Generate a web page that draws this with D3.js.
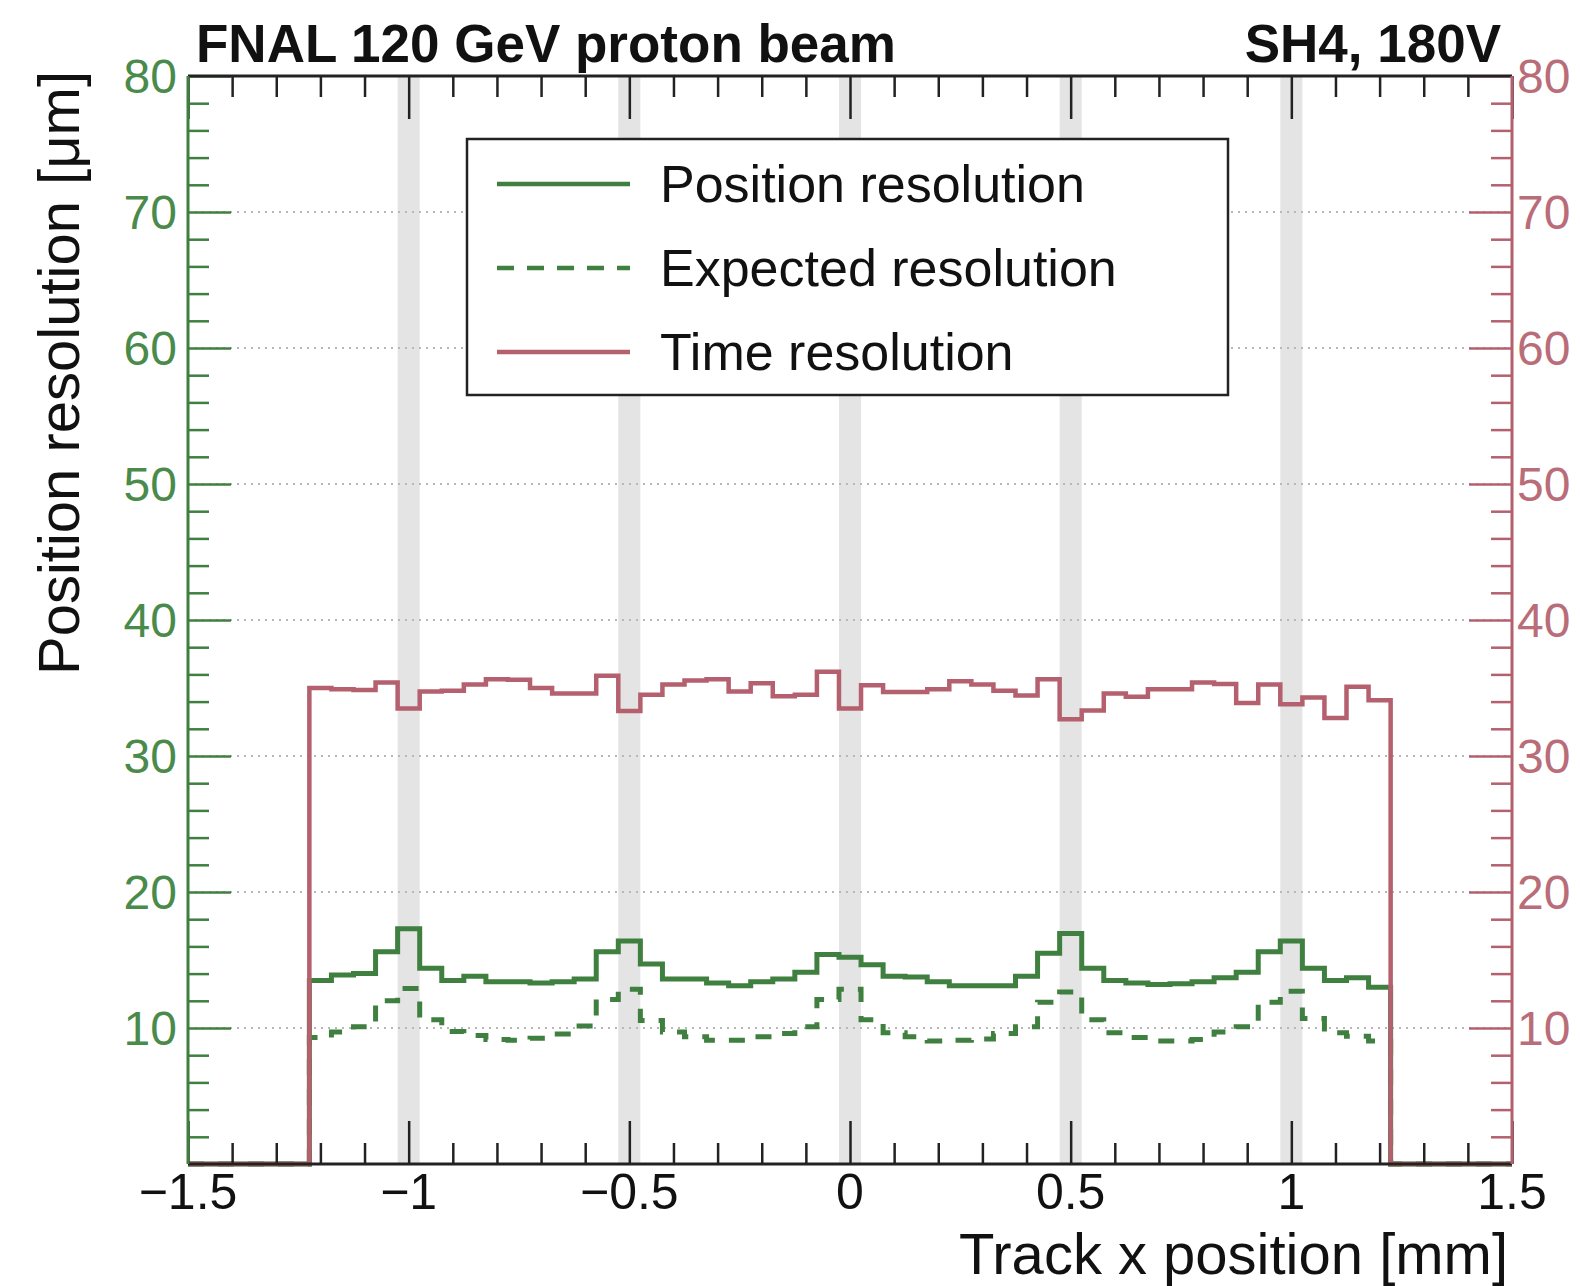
<!DOCTYPE html>
<html>
<head>
<meta charset="utf-8">
<script src="https://cdn.jsdelivr.net/npm/d3@7"></script>
<style>
  body { margin: 0; background: #fff; }
  text { font-family: "Liberation Sans", Arial, Helvetica, sans-serif; }
</style>
</head>
<body>
<svg id="chart"></svg>
<script>

var GREEN = '#3f7f3f';
var GREEN_TEXT = '#4a8a4a';
var RED = '#b4606e';
var RED_TEXT = '#b86d78';

// histogram binning: 49 bins of 50 um, centred on multiples of 0.05 mm
var binLow = -1.225;
var binWidth = 0.05;

var timeRes = [35.0, 34.9, 34.85, 35.4, 33.5, 34.75, 34.8, 35.25, 35.65, 35.6,
  35.0, 34.6, 34.6, 35.9, 33.3, 34.5, 35.25, 35.55, 35.65, 34.75,
  35.35, 34.4, 34.5, 36.2, 33.5, 35.2, 34.7, 34.7, 34.9, 35.5,
  35.25, 34.8, 34.45, 35.65, 32.7, 33.35, 34.6, 34.35, 34.9, 34.9,
  35.4, 35.3, 33.9, 35.25, 33.8, 34.3, 32.8, 35.1, 34.1];

var posRes = [13.5, 13.9, 14.0, 15.6, 17.3, 14.4, 13.5, 13.8, 13.4, 13.4,
  13.3, 13.4, 13.6, 15.6, 16.4, 14.7, 13.6, 13.6, 13.3, 13.1,
  13.4, 13.6, 14.1, 15.4, 15.2, 14.65, 13.8, 13.75, 13.4, 13.1,
  13.1, 13.1, 13.8, 15.5, 16.95, 14.4, 13.5, 13.3, 13.2, 13.25,
  13.4, 13.7, 14.1, 15.6, 16.4, 14.4, 13.5, 13.7, 13.0];

var expRes = [9.3, 9.7, 10.1, 12.0, 12.9, 10.6, 9.75, 9.45, 9.15, 9.1,
  9.25, 9.55, 10.15, 12.1, 12.85, 10.55, 9.7, 9.35, 9.1, 9.1,
  9.35, 9.6, 10.1, 12.1, 12.85, 10.6, 9.65, 9.35, 9.05, 9.1,
  9.2, 9.6, 10.1, 11.9, 12.65, 10.6, 9.65, 9.3, 9.05, 9.05,
  9.15, 9.7, 10.1, 11.9, 12.7, 10.7, 9.65, 9.4, 9.05];

var padCenters = [-1, -0.5, 0, 0.5, 1];
var padWidth = 0.05;

var xMajor = [-1.5, -1, -0.5, 0, 0.5, 1, 1.5];
var yMajor = [10, 20, 30, 40, 50, 60, 70, 80];
var yGrid = [10, 20, 30, 40, 50, 60, 70];

var legendItems = [
  {label: 'Position resolution', color: GREEN, dash: null},
  {label: 'Expected resolution', color: GREEN, dash: '17,13'},
  {label: 'Time resolution', color: RED, dash: null}
];


function stepPoints(values)
{
  var pts = [[-1.5, 0], [binLow, 0]];
  values.forEach(function(v, i) {
    var lo = binLow + i * binWidth;
    pts.push([lo, v]);
    pts.push([lo + binWidth, v]);
  });
  pts.push([binLow + values.length * binWidth, 0]);
  pts.push([1.5, 0]);
  return pts;
}

function minorTicks(lo, hi, step, skip)
{
  var out = [];
  for (var i = 0; lo + i * step <= hi + 1e-9; i++) {
    var v = +(lo + i * step).toFixed(4);
    if (Math.abs(v / skip - Math.round(v / skip)) > 1e-6) out.push(v);
  }
  return out;
}

function fmt(d)
{
  return (d < 0 ? '\u2212' : '') + Math.abs(d);
}


function setupDisplay()
{
  var w = 1580;
  var h = 1286;
  var left = 188, right = 1512, top = 76, bottom = 1164;

  var xScale = d3.scaleLinear().domain([-1.5, 1.5]).range([left, right]);
  var yScale = d3.scaleLinear().domain([0, 80]).range([bottom, top]);

  var svg = d3.select('#chart').attr('width', w).attr('height', h);
  svg.append('rect').attr('width', w).attr('height', h).attr('fill', '#fff');

  // pad regions
  svg.selectAll('rect.pad')
    .data(padCenters)
    .enter()
      .append('rect')
      .attr('class', 'pad')
      .attr('x', function(d) { return xScale(d - padWidth / 2); })
      .attr('width', function(d) { return xScale(d + padWidth / 2) - xScale(d - padWidth / 2); })
      .attr('y', top)
      .attr('height', bottom - top)
      .attr('fill', '#e4e4e4');

  // dotted grid
  svg.selectAll('line.grid')
    .data(yGrid)
    .enter()
      .append('line')
      .attr('x1', left).attr('x2', right)
      .attr('y1', function(d) { return yScale(d); })
      .attr('y2', function(d) { return yScale(d); })
      .attr('stroke', '#b8b8b8')
      .attr('stroke-width', 2)
      .attr('stroke-dasharray', '2,5');

  var line = d3.line()
    .x(function(d) { return xScale(d[0]); })
    .y(function(d) { return yScale(d[1]); });

  svg.append('path')
    .attr('d', line(stepPoints(expRes)))
    .attr('fill', 'none')
    .attr('stroke', GREEN)
    .attr('stroke-width', 5)
    .attr('stroke-dasharray', '16,14');

  svg.append('path')
    .attr('d', line(stepPoints(posRes)))
    .attr('fill', 'none')
    .attr('stroke', GREEN)
    .attr('stroke-width', 5);

  svg.append('path')
    .attr('d', line(stepPoints(timeRes)))
    .attr('fill', 'none')
    .attr('stroke', RED)
    .attr('stroke-width', 4.5);

  // axes: ticks only, labels added separately
  function ticks(axis, sel, color)
  {
    sel.call(axis);
    sel.select('.domain').remove();
    sel.selectAll('line').attr('stroke', color).attr('stroke-width', 2.5);
    sel.selectAll('text').remove();
  }

  var xMinor = minorTicks(-1.5, 1.5, 0.1, 0.5);
  var yMinor = minorTicks(0, 80, 2, 10);

  ticks(d3.axisTop(xScale).tickValues(xMajor).tickSize(43),
    svg.append('g').attr('transform', 'translate(0,' + bottom + ')'), '#222');
  ticks(d3.axisTop(xScale).tickValues(xMinor).tickSize(21),
    svg.append('g').attr('transform', 'translate(0,' + bottom + ')'), '#222');
  ticks(d3.axisBottom(xScale).tickValues(xMajor).tickSize(43),
    svg.append('g').attr('transform', 'translate(0,' + top + ')'), '#222');
  ticks(d3.axisBottom(xScale).tickValues(xMinor).tickSize(21),
    svg.append('g').attr('transform', 'translate(0,' + top + ')'), '#222');

  ticks(d3.axisRight(yScale).tickValues(yMajor).tickSize(43),
    svg.append('g').attr('transform', 'translate(' + left + ',0)'), GREEN);
  ticks(d3.axisRight(yScale).tickValues(yMinor).tickSize(21),
    svg.append('g').attr('transform', 'translate(' + left + ',0)'), GREEN);
  ticks(d3.axisLeft(yScale).tickValues(yMajor).tickSize(43),
    svg.append('g').attr('transform', 'translate(' + right + ',0)'), RED);
  ticks(d3.axisLeft(yScale).tickValues(yMinor).tickSize(21),
    svg.append('g').attr('transform', 'translate(' + right + ',0)'), RED);

  // frame
  svg.append('line').attr('x1', left).attr('x2', right).attr('y1', bottom).attr('y2', bottom)
    .attr('stroke', '#222').attr('stroke-width', 3);
  svg.append('line').attr('x1', left).attr('x2', right).attr('y1', top).attr('y2', top)
    .attr('stroke', '#222').attr('stroke-width', 3);
  svg.append('line').attr('x1', left).attr('x2', left).attr('y1', top).attr('y2', bottom)
    .attr('stroke', GREEN).attr('stroke-width', 3);
  svg.append('line').attr('x1', right).attr('x2', right).attr('y1', top).attr('y2', bottom)
    .attr('stroke', RED).attr('stroke-width', 3);

  // tick labels
  svg.selectAll('text.xl')
    .data(xMajor)
    .enter()
      .append('text')
      .attr('x', function(d) { return xScale(d); })
      .attr('y', 1209)
      .attr('text-anchor', 'middle')
      .attr('font-size', 50)
      .attr('fill', '#111')
      .text(fmt);

  svg.selectAll('text.yl')
    .data(yMajor)
    .enter()
      .append('text')
      .attr('x', left - 11)
      .attr('y', function(d) { return yScale(d); })
      .attr('dy', '0.36em')
      .attr('text-anchor', 'end')
      .attr('font-size', 48)
      .attr('fill', GREEN_TEXT)
      .text(fmt);

  svg.selectAll('text.yr')
    .data(yMajor)
    .enter()
      .append('text')
      .attr('x', right + 5)
      .attr('y', function(d) { return yScale(d); })
      .attr('dy', '0.36em')
      .attr('text-anchor', 'start')
      .attr('font-size', 48)
      .attr('fill', RED_TEXT)
      .text(fmt);

  // titles
  svg.append('text')
    .attr('x', 1508).attr('y', 1274)
    .attr('text-anchor', 'end')
    .attr('font-size', 58)
    .attr('fill', '#111')
    .text('Track x position [mm]');

  svg.append('text')
    .attr('transform', 'translate(79,71) rotate(-90)')
    .attr('text-anchor', 'end')
    .attr('font-size', 58)
    .attr('fill', '#111')
    .text('Position resolution [\u03bcm]');

  svg.append('text')
    .attr('x', 196).attr('y', 62)
    .attr('font-size', 53)
    .attr('font-weight', 'bold')
    .attr('fill', '#111')
    .text('FNAL 120 GeV proton beam');

  svg.append('text')
    .attr('x', 1501).attr('y', 62)
    .attr('text-anchor', 'end')
    .attr('font-size', 53)
    .attr('font-weight', 'bold')
    .attr('fill', '#111')
    .text('SH4, 180V');

  // legend
  var lg = svg.append('g').attr('transform', 'translate(467,139)');
  lg.append('rect')
    .attr('width', 761).attr('height', 256)
    .attr('fill', '#fff')
    .attr('stroke', '#222')
    .attr('stroke-width', 2.5);

  var rows = lg.selectAll('g.item')
    .data(legendItems)
    .enter()
      .append('g')
      .attr('transform', function(d, i) { return 'translate(0,' + (45 + i * 84) + ')'; });

  rows.append('line')
    .attr('x1', 30).attr('x2', 163)
    .attr('stroke', function(d) { return d.color; })
    .attr('stroke-width', 4.5)
    .attr('stroke-dasharray', function(d) { return d.dash; });

  rows.append('text')
    .attr('x', 193)
    .attr('dy', '0.35em')
    .attr('font-size', 52)
    .attr('fill', '#111')
    .text(function(d) { return d.label; });
}

setupDisplay();

</script>
</body>
</html>
